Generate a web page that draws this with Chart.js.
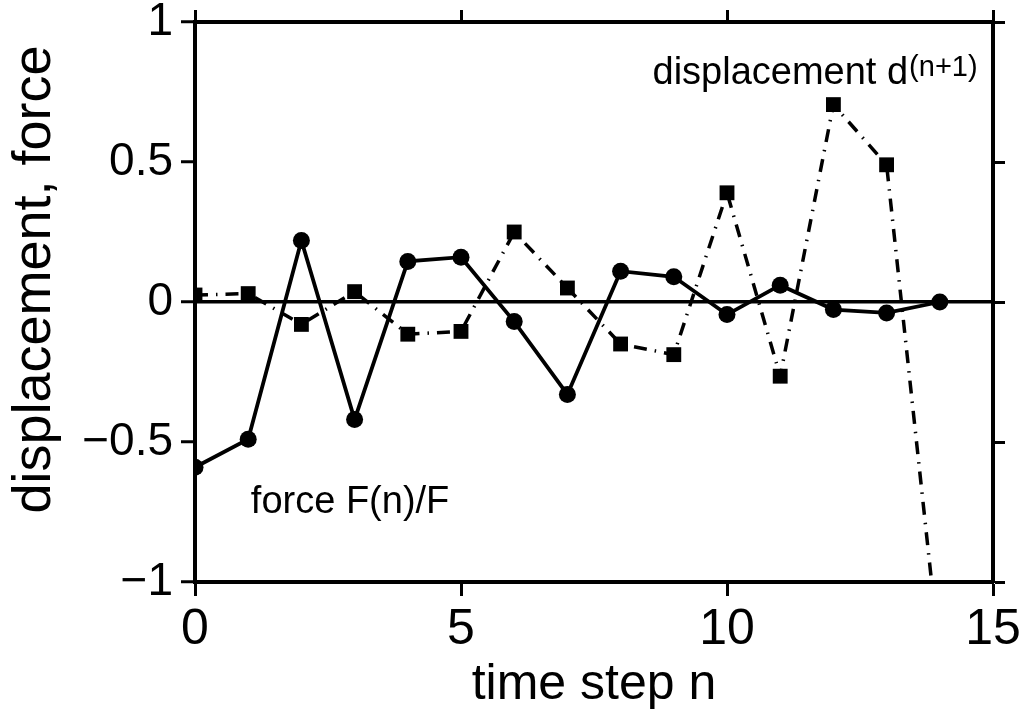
<!DOCTYPE html>
<html>
<head>
<meta charset="utf-8">
<script src="https://cdn.jsdelivr.net/npm/chart.js@4/dist/chart.umd.min.js"></script>
<style>
	body { margin: 0; background: #fff; }
	canvas { display: block; }
</style>
</head>
<body>
<canvas id="chart" width="1032" height="716"></canvas>
<script>
const steps = [0, 1, 2, 3, 4, 5, 6, 7, 8, 9, 10, 11, 12, 13, 14];
const forceValues = [-0.59, -0.49, 0.22, -0.42, 0.145, 0.16, -0.07, -0.33, 0.11, 0.09, -0.045, 0.06, -0.027, -0.039, 0.0];
const dispValues = [0.025, 0.03, -0.08, 0.037, -0.115, -0.105, 0.25, 0.05, -0.15, -0.188, 0.39, -0.265, 0.705, 0.49, -1.27];
const xTicks = [0, 5, 10, 15];
const yTicks = [-1, -0.5, 0, 0.5, 1];

const FONT = '"Liberation Sans", Arial, sans-serif';

// text labels sit at data coordinates
const notes = [
	{ text: 'force F(n)/F', x: 1.05, y: -0.755, size: 38 },
	{ text: 'displacement d', x: 8.6, y: 0.78, size: 38, sup: '(n+1)', supSize: 29, supRise: 8 }
];

const toPoints = (vals) => steps.map((s, i) => ({ x: s, y: vals[i] }));
const fmtTick = (v) => v === 0 ? '0' : String(v).replace('-', '\u2212');

const notesPlugin = {
	id: 'notes',
	afterDatasetsDraw: (chart) => {
		const ctx = chart.ctx;
		const xs = chart.scales.x;
		const ys = chart.scales.y;
		ctx.save();
		ctx.fillStyle = '#000';
		ctx.textBaseline = 'alphabetic';
		ctx.textAlign = 'left';
		notes.forEach(n => {
			const px = xs.getPixelForValue(n.x);
			const py = ys.getPixelForValue(n.y);
			ctx.font = `${n.size}px ${FONT}`;
			ctx.fillText(n.text, px, py);
			if (n.sup) {
				const w = ctx.measureText(n.text).width;
				ctx.font = `${n.supSize}px ${FONT}`;
				ctx.fillText(n.sup, px + w + 1, py - n.supRise);
			}
		});
		ctx.restore();
	}
};

const frameGrid = {
	drawOnChartArea: false,
	drawTicks: true,
	tickLength: 14,
	tickWidth: 3,
	tickColor: '#000',
	color: '#000'
};
const frameBorder = { display: true, width: 4, color: '#000' };

// fixed axis boxes so the plot frame lands where it should
const fixH = (h) => s => { s.height = h; s.paddingLeft = 0; s.paddingRight = 0; };
const fixW = (w) => s => { s.width = w; s.paddingTop = 0; s.paddingBottom = 0; };

new Chart(document.getElementById('chart').getContext('2d'), {
	type: 'line',
	data: {
		datasets: [
			{
				label: 'force',
				data: toPoints(forceValues),
				borderColor: '#000',
				backgroundColor: '#000',
				borderWidth: 3.8,
				pointStyle: 'circle',
				pointRadius: 8.5,
				pointBorderWidth: 0,
				tension: 0
			},
			{
				label: 'displacement',
				data: toPoints(dispValues),
				borderColor: '#000',
				backgroundColor: '#000',
				borderWidth: 3.5,
				borderDash: [13, 8, 1.5, 8],
				pointStyle: 'rect',
				pointRadius: 10.5,
				pointBorderWidth: 0,
				tension: 0
			}
		]
	},
	options: {
		responsive: false,
		animation: false,
		devicePixelRatio: 1,
		layout: { padding: 0 },
		plugins: {
			legend: { display: false },
			tooltip: { enabled: false }
		},
		scales: {
			x: {
				type: 'linear',
				position: 'bottom',
				min: 0,
				max: 15,
				afterBuildTicks: s => { s.ticks = xTicks.map(v => ({ value: v })); },
				afterFit: fixH(134),
				ticks: { color: '#000', font: { family: FONT, size: 50 }, padding: 4, maxRotation: 0 },
				grid: frameGrid,
				border: frameBorder,
				title: {
					display: true,
					text: 'time step n',
					color: '#000',
					font: { family: FONT, size: 50, lineHeight: 1 },
					padding: { top: 0, bottom: 6 }
				}
			},
			x2: {
				type: 'linear',
				position: 'top',
				min: 0,
				max: 15,
				afterBuildTicks: s => { s.ticks = xTicks.map(v => ({ value: v })); },
				afterFit: fixH(22),
				ticks: { display: false },
				grid: { ...frameGrid, tickLength: 12 },
				border: frameBorder
			},
			y: {
				type: 'linear',
				position: 'left',
				min: -1,
				max: 1,
				afterBuildTicks: s => { s.ticks = yTicks.map(v => ({ value: v })); },
				afterFit: fixW(195),
				ticks: {
					color: '#000',
					font: { family: FONT, size: 46 },
					padding: 8,
					callback: v => fmtTick(v)
				},
				grid: {
					drawOnChartArea: true,
					drawTicks: true,
					tickLength: 14,
					tickWidth: 3,
					tickColor: '#000',
					lineWidth: 3.5,
					color: c => (c.tick && c.tick.value === 0) ? '#000' : 'rgba(0,0,0,0)'
				},
				border: frameBorder,
				title: {
					display: true,
					text: '   displacement, force',
					color: '#000',
					font: { family: FONT, size: 54, lineHeight: 1 },
					padding: { top: 8, bottom: 0 }
				}
			},
			y2: {
				type: 'linear',
				position: 'right',
				min: -1,
				max: 1,
				afterBuildTicks: s => { s.ticks = yTicks.map(v => ({ value: v })); },
				afterFit: fixW(39),
				ticks: { display: false },
				grid: { ...frameGrid, tickLength: 12 },
				border: frameBorder
			}
		}
	},
	plugins: [notesPlugin]
});
</script>
</body>
</html>
